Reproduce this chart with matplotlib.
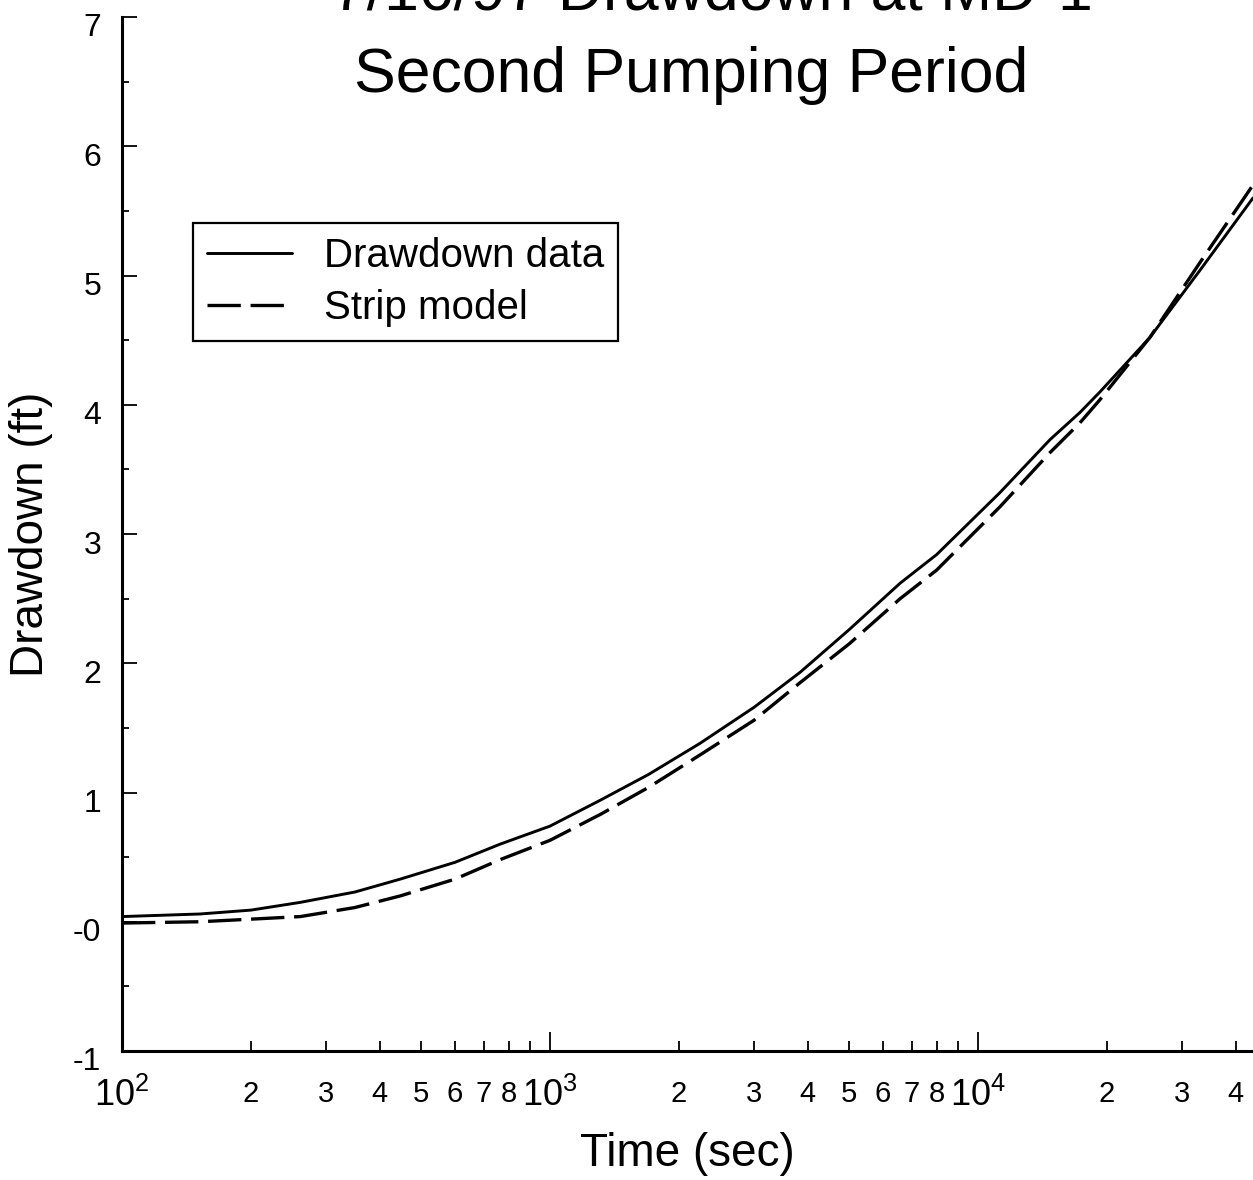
import matplotlib
matplotlib.use("Agg")
import matplotlib.pyplot as plt
import matplotlib.transforms as mtransforms
from matplotlib.ticker import FixedLocator, FixedFormatter

# ---- data ----
time_s = [100, 152, 200, 261, 350, 447, 600, 764, 1000, 1310, 1700, 2240, 3000,
          3840, 5000, 6580, 8000, 11250, 14730, 17300, 19280, 25200, 33000, 43900]
drawdown_data = [0.04, 0.06, 0.09, 0.15, 0.23, 0.33, 0.46, 0.60, 0.74, 0.94, 1.14, 1.38, 1.66,
                 1.93, 2.26, 2.62, 2.84, 3.32, 3.73, 3.94, 4.10, 4.52, 5.04, 5.60]
strip_model = [-0.01, 0.00, 0.02, 0.04, 0.11, 0.20, 0.33, 0.48, 0.63, 0.83, 1.04, 1.29, 1.56,
               1.85, 2.15, 2.50, 2.72, 3.21, 3.63, 3.86, 4.04, 4.52, 5.10, 5.70]

y_ticks = [-1, 0, 1, 2, 3, 4, 5, 6, 7]
y_tick_labels = ["-1", "-0", "1", "2", "3", "4", "5", "6", "7"]
x_major = [1e2, 1e3, 1e4]
x_major_labels = [r"$\mathregular{10^{2}}$", r"$\mathregular{10^{3}}$", r"$\mathregular{10^{4}}$"]
x_minor = [200, 300, 400, 500, 600, 700, 800, 900,
           2000, 3000, 4000, 5000, 6000, 7000, 8000, 9000,
           20000, 30000, 40000]
x_minor_labels = ["2", "3", "4", "5", "6", "7", "8", "",
                  "2", "3", "4", "5", "6", "7", "8", "",
                  "2", "3", "4"]

title_line1 = "7/16/97 Drawdown at MD-1"
title_line2 = "Second Pumping Period"
x_label = "Time (sec)"
y_label = "Drawdown (ft)"
legend_labels = ["Drawdown data", "Strip model"]

plt.rcParams["font.family"] = ["Liberation Sans", "DejaVu Sans"]
plt.rcParams["mathtext.fontset"] = "custom"
plt.rcParams["mathtext.rm"] = "Liberation Sans"
plt.rcParams["lines.scale_dashes"] = False

W, H = 1253, 1180
fig = plt.figure(figsize=(W / 100, H / 100), dpi=100)
ax = fig.add_axes([122 / W, (H - 1051) / H, 1 - 122 / W, (1051 - 17) / H])

ax.plot(time_s, drawdown_data, color="black", lw=2.1, solid_capstyle="round",
        solid_joinstyle="round", label=legend_labels[0])
ax.plot(time_s, strip_model, color="black", lw=2.4, linestyle=(0, (24, 7)),
        label=legend_labels[1])

ax.set_xscale("log")
ax.set_xlim(100, 43900)
ax.set_ylim(-1, 7)

ax.xaxis.set_major_locator(FixedLocator(x_major))
ax.xaxis.set_major_formatter(FixedFormatter(x_major_labels))
ax.xaxis.set_minor_locator(FixedLocator(x_minor))
ax.xaxis.set_minor_formatter(FixedFormatter(x_minor_labels))
ax.yaxis.set_major_locator(FixedLocator(y_ticks))
ax.yaxis.set_major_formatter(FixedFormatter(y_tick_labels))
ax.yaxis.set_minor_locator(FixedLocator([v + 0.5 for v in y_ticks[:-1]]))

for side in ("top", "right"):
    ax.spines[side].set_visible(False)
for side in ("left", "bottom"):
    ax.spines[side].set_linewidth(2.2)

ax.tick_params(axis="both", which="both", direction="in", color="black", width=1.3)
ax.tick_params(axis="y", which="major", length=11, labelsize=23, pad=15)
ax.tick_params(axis="y", which="minor", length=5)
ax.tick_params(axis="x", which="major", length=14, labelsize=26, pad=19)
ax.tick_params(axis="x", which="minor", length=7, labelsize=21, pad=21)

# y tick labels sit a little below their ticks in the reference
offset = mtransforms.ScaledTranslation(0, -8 / 100, fig.dpi_scale_trans)
for tick in ax.yaxis.get_major_ticks():
    tick.label1.set_transform(tick.label1.get_transform() + offset)

ax.set_xlabel(x_label, fontsize=33, labelpad=13)
ax.set_ylabel(y_label, fontsize=33, labelpad=14)

leg = ax.legend(loc="upper left", bbox_to_anchor=(193 / W, 1 - 223 / H),
                bbox_transform=fig.transFigure, borderaxespad=0, fontsize=29,
                handlelength=2.1, handletextpad=0.8, borderpad=0.35,
                labelspacing=0.35, fancybox=False, framealpha=1)
leg.get_frame().set_edgecolor("black")
leg.get_frame().set_linewidth(1.6)

fig.text(712 / W, 1 - 10 / H, title_line1, ha="center", va="baseline", fontsize=45)
fig.text(691 / W, 1 - 92 / H, title_line2, ha="center", va="baseline", fontsize=45)

fig.savefig("out.png", dpi=100)
